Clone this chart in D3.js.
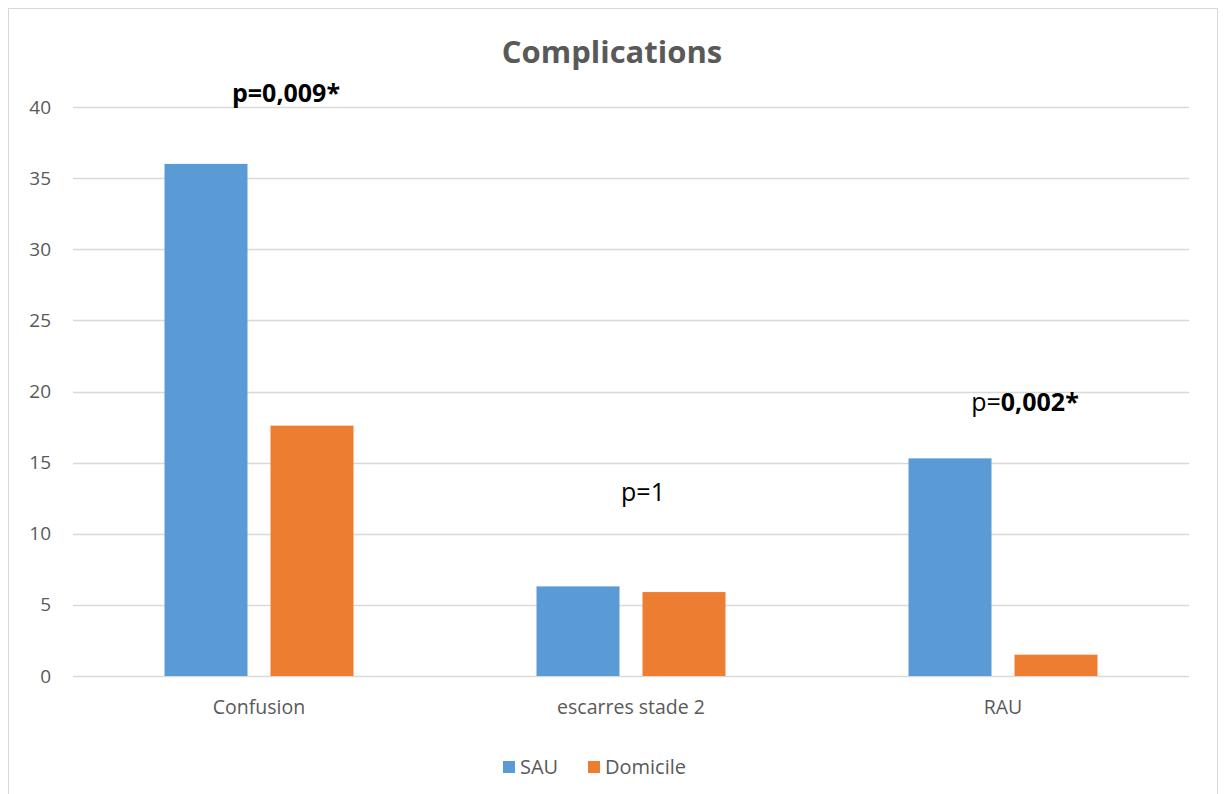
<!DOCTYPE html>
<html>
<head>
<meta charset="utf-8">
<script src="https://cdn.jsdelivr.net/npm/d3@7"></script>
<style>
  html, body { margin: 0; padding: 0; background: #fff; }
  svg { display: block; font-family: "Open Sans", "Noto Sans", sans-serif; }
</style>
</head>
<body>
<svg id="chart" width="1224" height="794"></svg>
<script>
// Complication rates (%) by care setting
const categories = ["Confusion", "escarres stade 2", "RAU"];
const seriesNames = ["SAU", "Domicile"];
const sauValues = [36.0, 6.3, 15.3];
const domicileValues = [17.6, 5.9, 1.5];
const yTicks = [0, 5, 10, 15, 20, 25, 30, 35, 40];
const colors = ["#5b9bd5", "#ed7d31"];

const svg = d3.select("#chart");

// Chart area frame
svg.append("rect")
  .attr("x", 8.5).attr("y", 8.5)
  .attr("width", 1209).attr("height", 800)
  .attr("fill", "#fff").attr("stroke", "#d9d9d9").attr("stroke-width", 1);

const plot = { left: 73, right: 1189, top: 107, bottom: 676 };

const y = d3.scaleLinear().domain([0, 40]).range([plot.bottom, plot.top]);
const x0 = d3.scaleBand().domain(categories).range([plot.left, plot.right]).padding(0);
const groupW = 189;
const x1 = d3.scaleBand().domain(seriesNames)
  .range([(x0.bandwidth() - groupW) / 2, (x0.bandwidth() + groupW) / 2])
  .paddingInner(23 / 106).paddingOuter(0);

// Gridlines
svg.append("g")
  .selectAll("line")
  .data(yTicks)
  .join("line")
  .attr("x1", plot.left).attr("x2", plot.right)
  .attr("y1", d => Math.round(y(d)) + 0.5).attr("y2", d => Math.round(y(d)) + 0.5)
  .attr("stroke", "#d9d9d9").attr("stroke-width", 1.5);

// Y axis labels
const yAxis = d3.axisLeft(y).tickValues(yTicks).tickSize(0).tickPadding(0);
const gy = svg.append("g").attr("transform", "translate(51,0)").call(yAxis);
gy.select(".domain").remove();
gy.selectAll("text")
  .attr("fill", "#595959").attr("font-size", 19)
  .attr("font-family", "\"Open Sans\", sans-serif");

// Bars
const data = categories.map((c, i) => ({ cat: c, values: [sauValues[i], domicileValues[i]] }));
const groups = svg.append("g").selectAll("g")
  .data(data).join("g")
  .attr("transform", d => `translate(${x0(d.cat)},0)`);
groups.selectAll("rect")
  .data(d => d.values.map((v, k) => ({ key: seriesNames[k], v, k })))
  .join("rect")
  .attr("x", d => x1(d.key))
  .attr("width", x1.bandwidth())
  .attr("y", d => y(d.v))
  .attr("height", d => y(0) - y(d.v))
  .attr("fill", d => colors[d.k]);

// Category labels
const xAxis = d3.axisBottom(x0).tickSize(0).tickPadding(0);
const gx = svg.append("g").attr("transform", `translate(0,${plot.bottom + 38})`).call(xAxis);
gx.select(".domain").remove();
gx.selectAll("text")
  .attr("dy", 0)
  .attr("fill", "#595959").attr("font-size", 19.5)
  .attr("font-family", "\"Open Sans\", sans-serif");

// Title
svg.append("text")
  .attr("x", 612).attr("y", 63)
  .attr("text-anchor", "middle")
  .attr("font-size", 31).attr("font-weight", "bold")
  .attr("fill", "#595959")
  .text("Complications");

// p-value annotations
svg.append("text")
  .attr("x", 286).attr("y", 102)
  .attr("text-anchor", "middle")
  .attr("font-size", 25).attr("font-weight", "bold").attr("fill", "#000")
  .text("p=0,009*");

svg.append("text")
  .attr("x", 643).attr("y", 501)
  .attr("text-anchor", "middle")
  .attr("font-size", 25).attr("fill", "#000")
  .text("p=1");

const p3 = svg.append("text")
  .attr("x", 1025).attr("y", 411)
  .attr("text-anchor", "middle")
  .attr("font-size", 25).attr("fill", "#000");
p3.append("tspan").text("p=");
p3.append("tspan").attr("font-weight", "bold").text("0,002*");

// Legend
const legend = svg.append("g").attr("transform", "translate(503,761)");
const legendItems = [
  { name: "SAU", color: colors[0], x: 0 },
  { name: "Domicile", color: colors[1], x: 85 }
];
const li = legend.selectAll("g").data(legendItems).join("g")
  .attr("transform", d => `translate(${d.x},0)`);
li.append("rect").attr("width", 12).attr("height", 12).attr("fill", d => d.color);
li.append("text").attr("x", 17).attr("y", 13)
  .attr("font-size", 20).attr("fill", "#595959")
  .text(d => d.name);
</script>
</body>
</html>
